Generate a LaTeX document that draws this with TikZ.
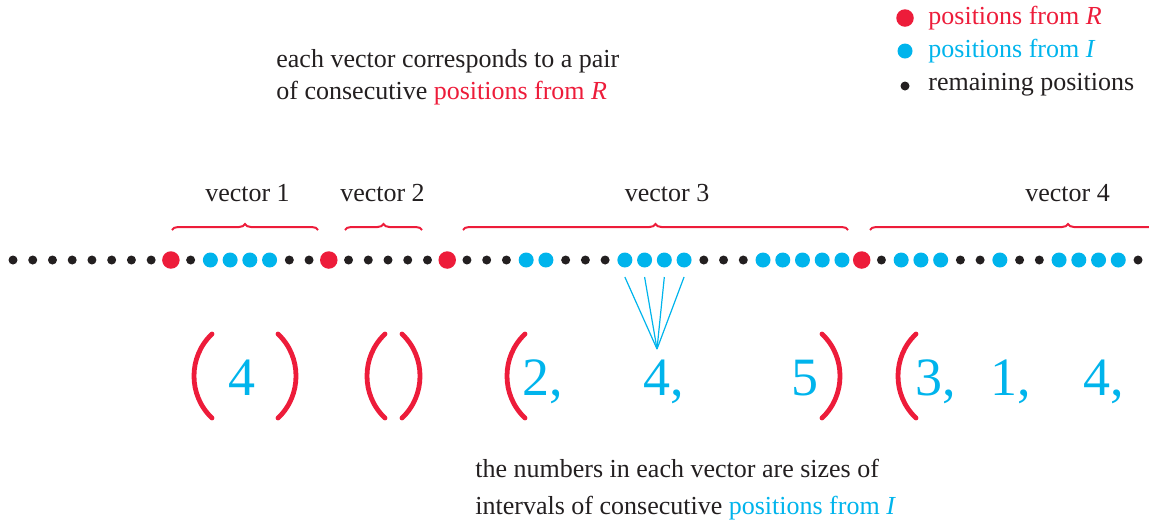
\documentclass[tikz,border=0pt]{standalone}
\usepackage{fontspec}
\setmainfont{Liberation Serif}
\usetikzlibrary{decorations.pathreplacing}
\definecolor{vred}{RGB}{237,28,58}
\definecolor{vcyan}{RGB}{0,180,236}
\definecolor{vblack}{RGB}{35,31,32}
\begin{document}
\begin{tikzpicture}[x=0.5pt,y=-0.5pt,
  dotb/.style={circle,fill=vblack,inner sep=0,minimum size=4.5pt},
  dotr/.style={circle,fill=vred,inner sep=0,minimum size=8.75pt},
  dotc/.style={circle,fill=vcyan,inner sep=0,minimum size=7.5pt},
  txt/.style={font=\fontsize{13}{16}\selectfont,text=vblack,inner sep=0},
  num/.style={font=\fontsize{27}{27}\selectfont,text=vcyan,inner sep=0,anchor=base west},
  vbrace/.style={draw=vred,line width=1pt,decorate,decoration={brace,amplitude=3pt}},
  fanline/.style={draw=vcyan,line width=0.6pt},
  parstroke/.style={draw=vred,line width=2.4pt,line cap=round},
  lpar/.pic={\draw[parstroke] (0,-42) .. controls (-24,-19.5) and (-24,19.5) .. (0,42);},
  rpar/.pic={\draw[parstroke] (0,-42) .. controls (24,-19.5) and (24,19.5) .. (0,42);}
]
\useasboundingbox (0,0) rectangle (1149,527);

% legend
\node[dotr] (l1) at (905,18) {};
\node[dotc] (l2) at (905,51) {};
\node[dotb] (l3) at (905,86) {};
\node[txt,text=vred,anchor=base west] (lt1) at (928,24) {positions from \textit{R}};
\node[txt,text=vcyan,anchor=base west] (lt2) at (928,57) {positions from \textit{I}};
\node[txt,anchor=base west] (lt3) at (928,90) {remaining positions};

% top text
\node[txt,anchor=base west] (ta) at (276,67) {each vector corresponds to a pair};
\node[txt,anchor=base west] (tb) at (276,99) {of consecutive \textcolor{vred}{positions from \textit{R}}};

% bottom text
\node[txt,anchor=base west] (ba) at (475,477) {the numbers in each vector are sizes of};
\node[txt,anchor=base west] (bb) at (475,514) {intervals of consecutive \textcolor{vcyan}{positions from \textit{I}}};

% dots
\foreach \t [count=\i from 0] in {b,b,b,b,b,b,b,b,r,b,c,c,c,c,b,b,r,b,b,b,b,b,r,b,b,b,c,c,b,b,b,c,c,c,c,b,b,b,c,c,c,c,c,r,b,c,c,c,b,b,c,b,b,c,c,c,c,b}
  \node[dot\t] (d\i) at ({13+19.737*\i},260) {};

% vector labels and braces
\node[txt,anchor=base] (v1) at (247.5,201) {vector 1};
\node[txt,anchor=base] (v2) at (382.5,201) {vector 2};
\node[txt,anchor=base] (v3) at (667,201) {vector 3};
\node[txt,anchor=base] (v4) at (1067.5,201) {vector 4};
\draw[vbrace] (172,230) -- (318,230);
\draw[vbrace] (345,230) -- (422,230);
\draw[vbrace] (463,230) -- (848,230);
\begin{scope}
\clip (0,0) rectangle (1149,527);
\draw[vbrace] (870,230) -- (1266,230);
\end{scope}

% fan
\coordinate (fan) at (657,349);
\foreach \k in {31,32,33,34} \draw[fanline] ([yshift=-8.5pt]d\k.center) -- (fan);

% parentheses
\pic at (212,376) {lpar};
\pic at (278,376) {rpar};
\pic at (385,376) {lpar};
\pic at (402,376) {rpar};
\pic at (525,376) {lpar};
\pic at (822,376) {rpar};
\pic at (916,376) {lpar};

% numbers
\node[num] (n1) at (228,395) {4};
\node[num] (n2) at (522,395) {2,};
\node[num] (n3) at (643,395) {4,};
\node[num] (n4) at (791,395) {5};
\node[num] (n5) at (915,395) {3,};
\node[num] (n6) at (990,395) {1,};
\node[num] (n7) at (1083,395) {4,};
\end{tikzpicture}
\end{document}
